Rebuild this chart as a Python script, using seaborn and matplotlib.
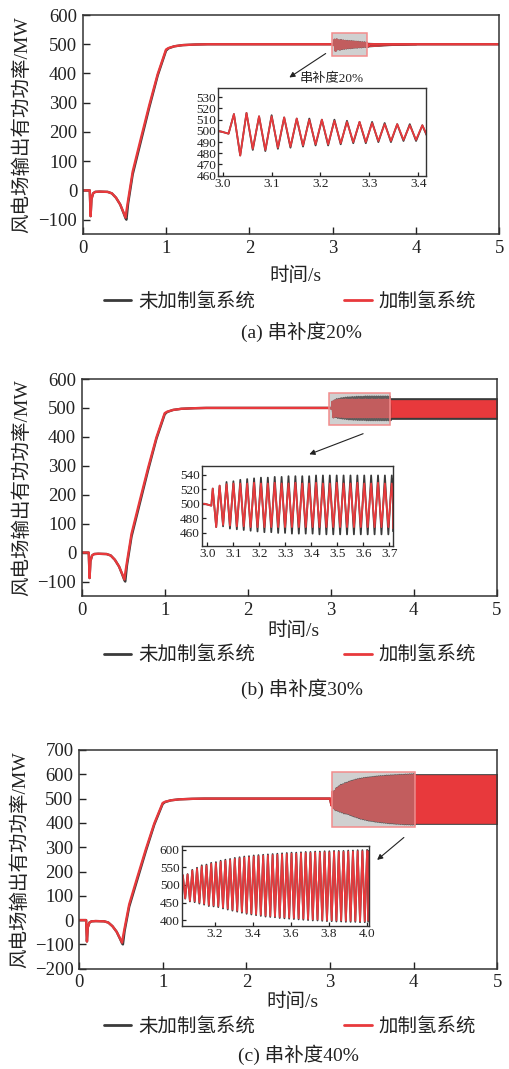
import numpy as np
import matplotlib
matplotlib.use("Agg")
import matplotlib.pyplot as plt
import seaborn as sns
from matplotlib.patches import Rectangle
from matplotlib.lines import Line2D
from matplotlib.ticker import FormatStrFormatter

# ---------------- data ----------------
legend_labels = ["未加制氢系统", "加制氢系统"]
captions = ["(a) 串补度20%", "(b) 串补度30%", "(c) 串补度40%"]
inset_note = "串补度20%"
x_label = "时间/s"
y_label = "风电场输出有功功率/MW"

# start-up transient (shared by the three cases)
startup_t = [0.0, 0.085, 0.095, 0.105, 0.125, 0.15, 0.2, 0.3, 0.35, 0.4, 0.45, 0.49,
             0.515, 0.525, 0.545, 0.6, 0.7, 0.8, 0.9, 1.0, 1.03, 1.1, 1.2, 1.35, 1.5, 2.0, 2.99]
startup_red = [0, 0, -88, -30, -10, -5, -4, -5, -10, -25, -48, -75,
               -93, -70, -33, 65, 180, 293, 398, 482, 487, 493, 497, 499, 500, 500, 500]
startup_blk = [0, 0, -88, -30, -10, -5, -4, -5, -10, -25, -48, -77,
               -96, -100, -45, 55, 170, 285, 393, 478, 486, 493, 497, 499, 500, 500, 500]

# case (a): series compensation 20 %
a_pre_t = [3.0, 3.012]
a_pre_v = [499, 497.5]
a_first_peak, a_period = 3.023, 0.0257
a_red_peaks = [515, 516, 513, 513, 512, 511, 510, 510, 509, 508, 508, 507, 506, 506, 505, 505]
a_red_troughs = [478, 484, 483, 485, 486, 487, 488, 488, 489, 490, 490, 491, 491, 492, 492, 493]
a_blk_peaks = [515, 516, 513, 514, 512, 511, 511, 510, 510, 509, 508, 508, 507, 506, 506, 505]
a_blk_troughs = [478, 483, 482, 484, 485, 486, 487, 487, 488, 489, 489, 490, 490, 491, 491, 492]
a_tail_t = [3.45, 5.0]
a_tail_v = [500, 500]
a_band_t = [3.42, 3.6, 3.8, 4.0]
a_band_red_hi = [505, 503, 501.5, 500.5]
a_band_red_lo = [493, 496, 498.5, 499.5]
a_band_blk_hi = [505.5, 503.5, 502, 500.5]
a_band_blk_lo = [492, 495.5, 498, 499.5]

# case (b): series compensation 30 %
b_pre_t = [3.0, 3.015]
b_pre_v = [499, 497.5]
b_first_peak, b_period = 3.0205, 0.0265
b_red_peaks = [521, 525, 527, 528, 528, 528, 529, 528, 528, 529, 528, 528, 529, 528,
               528, 529, 528, 528, 529, 528, 528, 529, 528, 528, 529, 528, 528]
b_red_troughs = [468, 471, 470, 469, 469, 468, 468, 468, 468, 468, 468, 468, 468, 468,
                 468, 468, 468, 468, 468, 468, 468, 468, 468, 468, 468, 468, 468]
b_blk_peaks = [521, 525, 530, 531, 533, 534, 535, 536, 536, 537, 537, 538, 538, 538,
               538, 539, 539, 539, 539, 539, 539, 539, 539, 539, 539, 539, 539]
b_blk_troughs = [468, 469, 466, 465, 464, 463, 462, 461, 461, 460, 460, 459, 459, 459,
                 459, 458, 458, 458, 458, 458, 458, 458, 458, 458, 458, 458, 458]
b_tail_t = []
b_tail_v = []
b_band_t = [3.71, 5.0]
b_band_red_hi = [529, 529]
b_band_red_lo = [467, 467]
b_band_blk_hi = [535, 535]
b_band_blk_lo = [462, 462]

# case (c): series compensation 40 %
c_pre_t = [3.0, 3.0186]
c_pre_v = [500, 472]
c_first_peak, c_period = 3.031, 0.0249
c_red_peaks = [528, 530, 541, 546, 553, 555, 560, 562, 566, 569, 571, 574, 576, 578, 579,
               581, 582, 583, 584, 585, 586, 587, 588, 589, 589, 590, 591, 591, 592, 592,
               593, 593, 594, 594, 594, 595, 595, 596, 596, 597]
c_red_troughs = [462, 455, 454, 450, 447, 443, 442, 440, 436, 433, 430, 427, 424, 421, 419,
                 417, 415, 413, 412, 411, 409, 408, 407, 406, 405, 404, 403, 402, 402, 401,
                 400, 400, 399, 399, 398, 398, 398, 397, 397, 397]
c_blk_peaks = [528, 531, 543, 549, 556, 558, 563, 565, 569, 572, 574, 577, 579, 581, 582,
               584, 585, 586, 587, 588, 589, 590, 591, 592, 592, 593, 594, 594, 595, 595,
               596, 596, 597, 597, 597, 598, 598, 599, 599, 600]
c_blk_troughs = [461, 453, 451, 447, 444, 440, 439, 437, 433, 430, 427, 424, 421, 418, 416,
                 414, 412, 410, 409, 408, 406, 405, 404, 403, 402, 401, 400, 399, 399, 398,
                 397, 397, 396, 396, 395, 395, 395, 394, 394, 394]
c_tail_t = []
c_tail_v = []
c_band_t = [4.0, 5.0]
c_band_red_hi = [598, 598]
c_band_red_lo = [399, 399]
c_band_blk_hi = [601, 601]
c_band_blk_lo = [396, 396]

main_yticks = [[-100, 0, 100, 200, 300, 400, 500, 600],
               [-100, 0, 100, 200, 300, 400, 500, 600],
               [-200, -100, 0, 100, 200, 300, 400, 500, 600, 700]]
main_xticks = [0, 1, 2, 3, 4, 5]
inset_xticks = [[3.0, 3.1, 3.2, 3.3, 3.4],
                [3.0, 3.1, 3.2, 3.3, 3.4, 3.5, 3.6, 3.7],
                [3.2, 3.4, 3.6, 3.8, 4.0]]
inset_yticks = [[460, 470, 480, 490, 500, 510, 520, 530],
                [460, 480, 500, 520, 540],
                [400, 450, 500, 550, 600]]

# ---------------- style ----------------
sns.set_theme(style="ticks")
plt.rcParams["font.family"] = ["Liberation Serif", "Noto Sans CJK SC", "DejaVu Sans"]
plt.rcParams["axes.unicode_minus"] = True
RED = "#e8393c"
BLK = "#3a3a3a"
SPINE = "#333333"

W, H = 509, 1069
fig = plt.figure(figsize=(W / 100, H / 100), dpi=100)


def fr(l, t, r, b):
    return [l / W, 1 - b / H, (r - l) / W, (b - t) / H]


def build(start_v, pre_t, pre_v, first_peak, period, peaks, troughs, tail_t, tail_v):
    t = list(startup_t) + list(pre_t)
    v = list(start_v) + list(pre_v)
    for k, (p, q) in enumerate(zip(peaks, troughs)):
        t += [first_peak + k * period, first_peak + (k + 0.5) * period]
        v += [p, q]
    t += list(tail_t)
    v += list(tail_v)
    return np.array(t), np.array(v)


cases = [
    dict(pre_t=a_pre_t, pre_v=a_pre_v, fp=a_first_peak, per=a_period,
         rp=a_red_peaks, rt=a_red_troughs, bp=a_blk_peaks, bt=a_blk_troughs,
         tt=a_tail_t, tv=a_tail_v, bandt=a_band_t, rhi=a_band_red_hi, rlo=a_band_red_lo,
         bhi=a_band_blk_hi, blo=a_band_blk_lo,
         ylim=(-150, 600), main=fr(82.7, 15, 499.3, 234.3), inset=fr(218.3, 88.3, 426, 175.7),
         ixlim=(2.991, 3.416), iylim=(460, 538),
         arrow=((328, 52), (287, 79)), xlab_y=-0.19, ylab_x=-0.146,
         leg_y=301.7, cap=(301.7, 331.7)),
    dict(pre_t=b_pre_t, pre_v=b_pre_v, fp=b_first_peak, per=b_period,
         rp=b_red_peaks, rt=b_red_troughs, bp=b_blk_peaks, bt=b_blk_troughs,
         tt=b_tail_t, tv=b_tail_v, bandt=b_band_t, rhi=b_band_red_hi, rlo=b_band_red_lo,
         bhi=b_band_blk_hi, blo=b_band_blk_lo,
         ylim=(-150, 600), main=fr(81.7, 379, 496.7, 596), inset=fr(201.7, 466, 392.7, 546),
         ixlim=(2.978, 3.713), iylim=(442, 552),
         arrow=((365.7, 432.7), (306.7, 455.3)), xlab_y=-0.163, ylab_x=-0.145,
         leg_y=655, cap=(301.7, 688.3)),
    dict(pre_t=c_pre_t, pre_v=c_pre_v, fp=c_first_peak, per=c_period,
         rp=c_red_peaks, rt=c_red_troughs, bp=c_blk_peaks, bt=c_blk_troughs,
         tt=c_tail_t, tv=c_tail_v, bandt=c_band_t, rhi=c_band_red_hi, rlo=c_band_red_lo,
         bhi=c_band_blk_hi, blo=c_band_blk_lo,
         ylim=(-200, 700), main=fr(79, 750, 497.3, 968.7), inset=fr(181.7, 846, 369, 925.7),
         ixlim=(3.025, 4.012), iylim=(384, 611),
         arrow=((406, 835.7), (375, 861.7)), xlab_y=-0.15, ylab_x=-0.141,
         leg_y=1026.7, cap=(298, 1055)),
]


def draw_series(ax, c, lw_main):
    tb, vb = build(startup_blk, c["pre_t"], c["pre_v"], c["fp"], c["per"], c["bp"], c["bt"], c["tt"], c["tv"])
    tr, vr = build(startup_red, c["pre_t"], c["pre_v"], c["fp"], c["per"], c["rp"], c["rt"], c["tt"], c["tv"])
    sns.lineplot(x=tb, y=vb, ax=ax, color=BLK, lw=lw_main, sort=False, estimator=None)
    ax.fill_between(c["bandt"], c["blo"], c["bhi"], color=BLK, lw=0.5)
    sns.lineplot(x=tr, y=vr, ax=ax, color=RED, lw=lw_main, sort=False, estimator=None)
    ax.fill_between(c["bandt"], c["rlo"], c["rhi"], color=RED, lw=0.5)


for i, c in enumerate(cases):
    ax = fig.add_axes(c["main"])
    draw_series(ax, c, 1.7)
    ax.set_xlim(0, 5)
    ax.set_ylim(*c["ylim"])
    ax.set_xticks(main_xticks)
    ax.set_yticks(main_yticks[i])
    ax.tick_params(direction="in", length=5, width=1, labelsize=13.5, colors="#222222", pad=4)
    for s in ax.spines.values():
        s.set_color(SPINE)
        s.set_linewidth(1.1)
    ax.set_xlabel(x_label, fontsize=14, va="center", color="#222222")
    ax.xaxis.set_label_coords(0.51, c["xlab_y"])
    ax.set_ylabel(y_label, fontsize=14, va="center", color="#222222")
    ax.yaxis.set_label_coords(c["ylab_x"], 0.5)
    # highlight rectangle of the zoomed window
    x0, x1 = c["ixlim"]
    y0, y1 = c["iylim"]
    ax.add_patch(Rectangle((x0, y0), x1 - x0, y1 - y0, facecolor=(0.56, 0.56, 0.56, 0.42),
                           edgecolor="#f28c8c", lw=1.1, zorder=5))

    # inset
    ia = fig.add_axes(c["inset"])
    ia.set_facecolor("white")
    draw_series(ia, c, 1.3)
    ia.set_xlim(*c["ixlim"])
    ia.set_ylim(*c["iylim"])
    ia.set_xticks(inset_xticks[i])
    ia.set_yticks(inset_yticks[i])
    ia.xaxis.set_major_formatter(FormatStrFormatter("%.1f"))
    ia.tick_params(direction="in", length=3, width=0.9, labelsize=9.5, colors="#222222", pad=1.5)
    for s in ia.spines.values():
        s.set_color(SPINE)
        s.set_linewidth(1.0)
    ia.set_xlabel("")
    ia.set_ylabel("")

    # arrow from rectangle to inset
    (xa, ya), (xb, yb) = c["arrow"]
    ax.annotate("", xy=(xb, H - yb), xycoords="figure pixels",
                xytext=(xa, H - ya), textcoords="figure pixels",
                arrowprops=dict(arrowstyle="-|>", color="#222222", lw=0.8, mutation_scale=8))

    # legend
    handles = [Line2D([], [], color=BLK, lw=2), Line2D([], [], color=RED, lw=2)]
    fig.legend(handles, legend_labels, loc="center", bbox_to_anchor=(290 / W, 1 - c["leg_y"] / H),
               ncol=2, frameon=False, fontsize=14, handlelength=1.4, handletextpad=0.35,
               columnspacing=4.6, labelcolor="#222222")
    fig.text(c["cap"][0] / W, 1 - c["cap"][1] / H, captions[i], ha="center", va="center",
             fontsize=14, color="#222222")

fig.text(331.7 / W, 1 - 79.3 / H, inset_note, ha="center", va="center", fontsize=9.5, color="#222222")

fig.savefig("out.png", dpi=100)
